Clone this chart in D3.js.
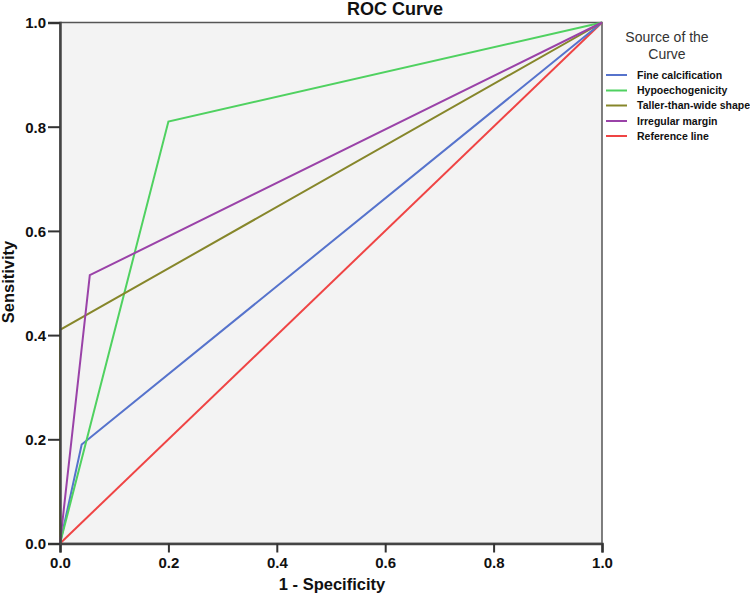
<!DOCTYPE html>
<html><head><meta charset="utf-8">
<script src="https://cdn.jsdelivr.net/npm/d3@7"></script>
<style>body{margin:0;background:#fff}svg{display:block}text{font-family:"Liberation Sans",Arial,sans-serif}</style>
</head><body>
<svg id="c" width="750" height="602"></svg>
<script>
const seriesNames = ["Fine calcification","Hypoechogenicity","Taller-than-wide shape","Irregular margin","Reference line"];
const seriesColors = ["#5673cc","#4fd160","#86862a","#9a42a8","#ef4444"];
const fineCalcX = [0, 0.04, 1], fineCalcY = [0, 0.19, 1];
const hypoX = [0, 0.2, 1], hypoY = [0, 0.81, 1];
const tallerX = [0, 0, 1], tallerY = [0, 0.41, 1];
const irregX = [0, 0.055, 1], irregY = [0, 0.515, 1];
const refX = [0, 1], refY = [0, 1];
const tickValues = [0, 0.2, 0.4, 0.6, 0.8, 1.0];

const seriesX = [fineCalcX, hypoX, tallerX, irregX, refX];
const seriesY = [fineCalcY, hypoY, tallerY, irregY, refY];

const svg = d3.select("#c");
const L = 60, R = 602, T = 22.5, B = 543.5;
const x = d3.scaleLinear().domain([0,1]).range([L,R]);
const y = d3.scaleLinear().domain([0,1]).range([B,T]);

svg.append("rect").attr("x",L).attr("y",T).attr("width",R-L).attr("height",B-T)
  .attr("fill","#f3f3f3").attr("stroke","#555").attr("stroke-width",1.5);

const line = d3.line().x(d=>x(d[0])).y(d=>y(d[1]));
const order = [4,0,1,2,3];
order.forEach(i=>{
  const pts = seriesX[i].map((v,j)=>[v, seriesY[i][j]]);
  svg.append("path").attr("d", line(pts)).attr("fill","none")
    .attr("stroke", seriesColors[i]).attr("stroke-width",2);
});

const xa = svg.append("g").attr("transform",`translate(0,${B})`)
  .call(d3.axisBottom(x).tickValues(tickValues).tickFormat(d3.format(".1f")).tickSize(9).tickPadding(5));
const ya = svg.append("g").attr("transform",`translate(${L},0)`)
  .call(d3.axisLeft(y).tickValues(tickValues).tickFormat(d3.format(".1f")).tickSize(12).tickPadding(2));
[xa,ya].forEach(g=>{
  g.select(".domain").attr("stroke","#444").attr("stroke-width",2.5);
  g.selectAll(".tick line").attr("stroke","#333").attr("stroke-width",2);
  g.selectAll(".tick text").attr("fill","#111").style("font-size","15px").style("font-weight","bold");
});
ya.selectAll(".tick text").attr("dy","0.36em");

svg.append("text").attr("x",395).attr("y",15).attr("text-anchor","middle")
  .style("font-size","18px").style("font-weight","bold").attr("fill","#111").text("ROC Curve");
svg.append("text").attr("x",332).attr("y",590).attr("text-anchor","middle")
  .style("font-size","16.5px").style("font-weight","bold").attr("fill","#111").text("1 - Specificity");
svg.append("text").attr("transform","translate(14,282) rotate(-90)").attr("text-anchor","middle")
  .style("font-size","16.5px").style("font-weight","bold").attr("fill","#111").text("Sensitivity");

svg.append("text").attr("x",667).attr("y",42).attr("text-anchor","middle")
  .style("font-size","14px").attr("fill","#333").text("Source of the");
svg.append("text").attr("x",667).attr("y",59).attr("text-anchor","middle")
  .style("font-size","14px").attr("fill","#333").text("Curve");

const legY = [75, 90.5, 105.5, 121, 136];
seriesNames.forEach((n,i)=>{
  svg.append("line").attr("x1",606).attr("x2",627).attr("y1",legY[i]).attr("y2",legY[i])
    .attr("stroke",seriesColors[i]).attr("stroke-width",2);
  svg.append("text").attr("x",637).attr("y",legY[i]+3.5)
    .style("font-size","10.5px").style("font-weight","bold").attr("fill","#111").text(n);
});
</script>
</body></html>
